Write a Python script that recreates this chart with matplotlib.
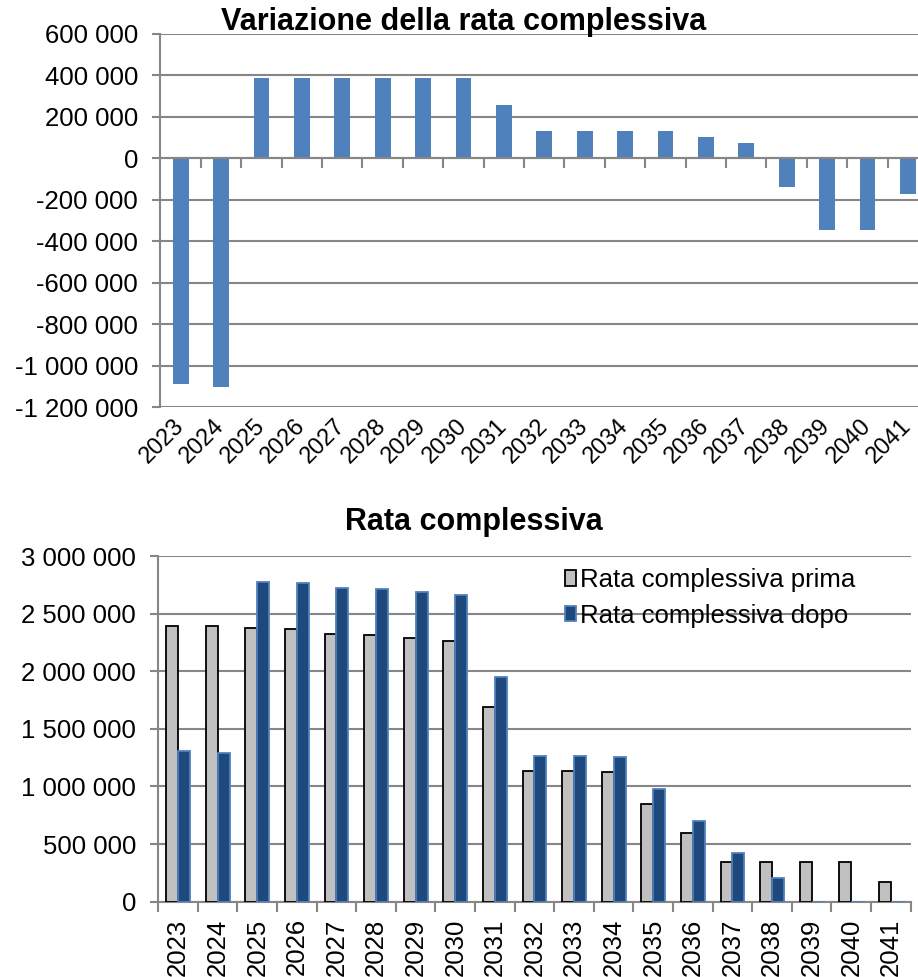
import matplotlib.pyplot as plt
from matplotlib.ticker import FuncFormatter, FixedLocator
import numpy as np

plt.rcParams['font.family'] = ['Liberation Sans', 'DejaVu Sans']

years = [str(y) for y in range(2023, 2042)]

variazione = [-1090000, -1103000, 390000, 390000, 390000, 390000, 390000, 390000,
              258000, 130000, 130000, 130000, 130000, 102000, 76000,
              -136000, -348000, -348000, -174000]

rata_prima = [2395000, 2389000, 2378000, 2369000, 2322000, 2317000, 2291000, 2262000,
              1688000, 1138000, 1132000, 1123000, 849000, 597000, 345000,
              345000, 345000, 345000, 171000]

rata_dopo = [1306000, 1289000, 2774000, 2765000, 2722000, 2713000, 2687000, 2658000,
             1949000, 1268000, 1262000, 1254000, 979000, 701000, 423000,
             208000, 0, 0, 0]

GRID = '#868686'
FS = 18.5


def fmt(v, pos=None):
    s = f"{abs(int(round(v))):,}".replace(",", " ")
    return "-" + s if v < 0 else s


def style(ax):
    ax.grid(axis='y', color=GRID, linewidth=1.5)
    ax.set_axisbelow(True)
    for side in ['top', 'right']:
        ax.spines[side].set_visible(False)
    ax.spines['left'].set_color(GRID)
    ax.spines['left'].set_linewidth(1.5)
    ax.spines['bottom'].set_color(GRID)
    ax.spines['bottom'].set_linewidth(1.5)
    ax.yaxis.set_major_formatter(FuncFormatter(fmt))
    ax.tick_params(axis='y', colors=GRID, labelcolor='black', labelsize=FS,
                   length=6, width=1.5, pad=10)


fig = plt.figure(figsize=(9.18, 9.77), dpi=100)
x = np.arange(len(years))

# top chart: variation
ax1 = fig.add_axes([0.1748, 0.5834, 0.8362, 0.3818])
ax1.bar(x, variazione, width=0.39, color='#4F81BD', zorder=3)
ax1.set_ylim(-1200000, 600000)
ax1.set_yticks(np.arange(-1200000, 600001, 200000))
ax1.set_xlim(-0.5, len(years) - 0.5)
style(ax1)
ax1.spines['bottom'].set_position(('data', 0))
ax1.spines['bottom'].set_zorder(4)
ax1.xaxis.set_major_locator(FixedLocator(np.arange(0.5, len(years), 1.0)))
ax1.xaxis.set_major_formatter(FuncFormatter(lambda v, p: ""))
ax1.tick_params(axis='x', colors=GRID, length=7, width=1.5)
sec = ax1.secondary_xaxis('bottom')
sec.set_xticks(x)
sec.set_xticklabels(years, rotation=45, ha='right', va='center',
                    rotation_mode='anchor', fontsize=17)
sec.tick_params(length=0, pad=11)
sec.spines['bottom'].set_visible(False)
fig.text(0.5054, 0.9775, "Variazione della rata complessiva", ha='center', va='center',
         fontsize=22, fontweight='bold')

# bottom chart: totals
ax2 = fig.add_axes([0.1724, 0.0771, 0.8196, 0.3538])
w = 0.3
ax2.bar(x - w / 2, rata_prima, width=w, color='#C0C0C0', edgecolor='black',
        linewidth=1.3, zorder=3, label='Rata complessiva prima')
ax2.bar(x + w / 2, rata_dopo, width=w, color='#1F497D', edgecolor='#4F81BD',
        linewidth=1.3, zorder=3, label='Rata complessiva dopo')
ax2.set_ylim(0, 3000000)
ax2.set_yticks(np.arange(0, 3000001, 500000))
ax2.set_xlim(-0.5, len(years) - 0.5)
style(ax2)
ax2.set_xticks(x)
ax2.set_xticklabels(years, rotation=90, fontsize=FS)
ax2.set_xticks(np.arange(-0.5, len(years), 1.0), minor=True)
ax2.tick_params(axis='x', which='major', length=0, pad=12)
ax2.tick_params(axis='x', which='minor', colors=GRID, length=7, width=1.5)
ax2.legend(loc='upper right', bbox_to_anchor=(0.94, 0.995), frameon=False, fontsize=FS,
           handlelength=0.45, handleheight=0.55, handletextpad=0.15, labelspacing=0.45,
           borderaxespad=0)
fig.text(0.516, 0.4657, "Rata complessiva", ha='center', va='center',
         fontsize=22, fontweight='bold')

fig.savefig('out.png', dpi=100)
